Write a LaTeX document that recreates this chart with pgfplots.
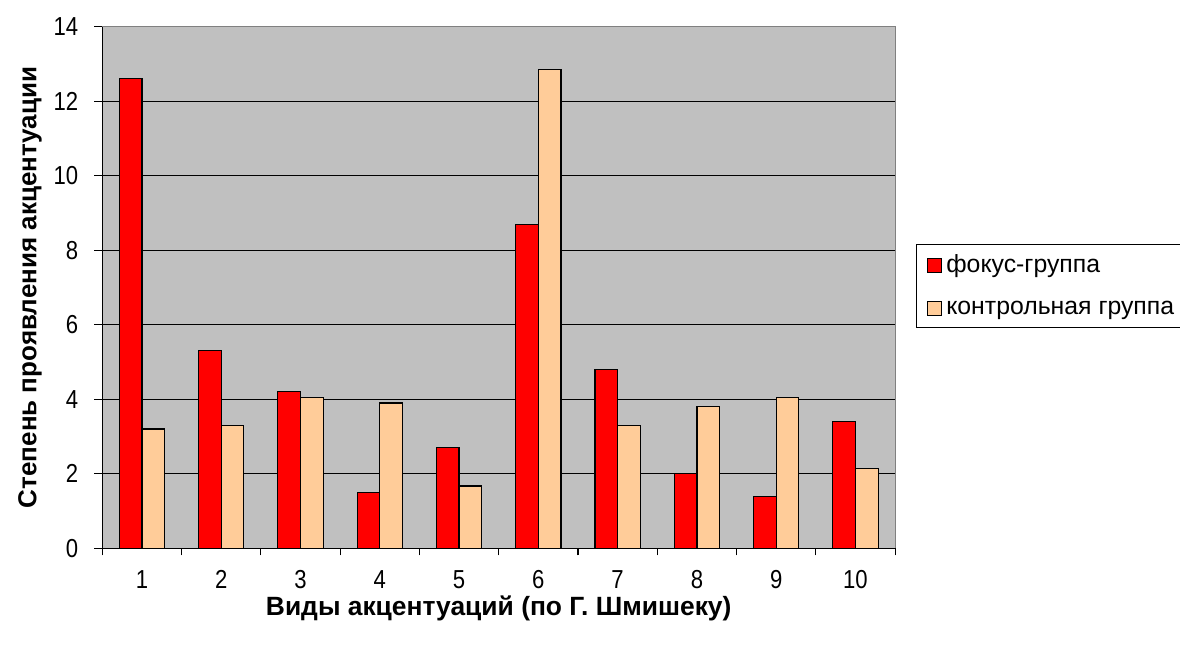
\documentclass[border=0pt]{standalone}
\usepackage{fontspec}
\setmainfont{Liberation Sans}
\newfontfamily\tickfont[FakeStretch=0.85]{Liberation Sans}
\usepackage{pgfplots}
\pgfplotsset{compat=1.18}
\definecolor{barred}{HTML}{FF0000}
\definecolor{barpeach}{HTML}{FFCC99}
\definecolor{bggray}{HTML}{C0C0C0}
\definecolor{bordergray}{HTML}{808080}
\begin{document}
\begin{tikzpicture}
\path[use as bounding box] (0,0) rectangle (590pt,323pt);
\begin{axis}[
  at={(51.15pt,48.85pt)}, anchor=south west,
  scale only axis, width=396.4pt, height=260.8pt,
  xmin=0.5, xmax=10.5, ymin=0, ymax=14,
  axis background/.style={fill=bggray, draw=bordergray, line width=0.6pt},
  axis x line*=bottom, axis y line*=left,
  axis line style={black, line width=0.6pt},
  ybar=0pt, bar width=0.286,
  xtick={1,...,10},
  minor xtick={0.5,1.5,...,10.5},
  ytick={0,2,...,14},
  tick align=outside,
  major tick length=4pt, minor tick length=3.5pt,
  every major x tick/.style={draw=none},
  every tick/.style={black, line width=0.6pt},
  extra y ticks={2,4,...,12}, extra y tick labels={},
  extra y tick style={grid=major, major grid style={black, line width=0.6pt}, major tick length=0pt},
  /pgf/number format/assume math mode=true,
  ticklabel style={font=\tickfont\fontsize{13}{15}\selectfont},
  yticklabel style={xshift=-4.5pt},
  xticklabel style={yshift=-3.5pt},
  xlabel={Виды акцентуаций (по Г.~Шмишеку)},
  ylabel={Степень проявления акцентуации},
  xlabel style={font=\bfseries\fontsize{13.2}{15}\selectfont, at={(axis description cs:0.5,-0.1145)}, anchor=center},
  ylabel style={font=\bfseries\fontsize{13}{15}\selectfont, at={(axis description cs:-0.0912,0.5)}, anchor=center},
  legend style={at={(1.026,0.583)}, anchor=north west, draw=black, fill=white, line width=0.6pt,
    font=\fontsize{12.4}{14}\selectfont, row sep=8.5pt, inner xsep=5.5pt, inner ysep=3pt},
  legend cell align=left,
  legend image code/.code={\draw[#1, line width=0.5pt] (0pt,-3.5pt) rectangle (7pt,3.5pt);},
]
\addplot[fill=barred, draw=black, line width=0.6pt] coordinates {
(1,12.6) (2,5.3) (3,4.2) (4,1.5) (5,2.7) (6,8.7) (7,4.8) (8,2.0) (9,1.4) (10,3.4)};
\addplot[fill=barpeach, draw=black, line width=0.6pt] coordinates {
(1,3.2) (2,3.3) (3,4.05) (4,3.9) (5,1.67) (6,12.85) (7,3.3) (8,3.8) (9,4.05) (10,2.15)};
\legend{фокус-группа, контрольная группа}
\end{axis}
\end{tikzpicture}
\end{document}
